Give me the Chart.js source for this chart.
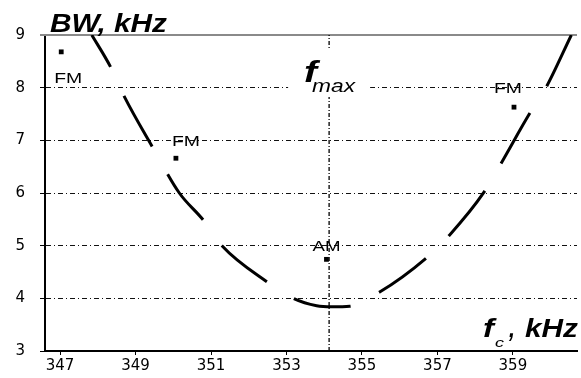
<!DOCTYPE html>
<html><head><meta charset="utf-8">
<script src="https://cdn.jsdelivr.net/npm/chart.js@4"></script>
<style>html,body{margin:0;padding:0;background:#fff}#wrap{width:581px;height:378px;position:relative}</style>
</head><body><div id="wrap"><canvas id="c"></canvas></div>
<script>
// ---- data ----
const xTicks = [347, 349, 351, 353, 355, 357, 359];
const yTicks = [3, 4, 5, 6, 7, 8, 9];
const curveFc = [347.84, 348.34, 348.71, 349.45, 350.16, 350.79, 351.29, 352.47, 353.18, 353.8, 354.2, 354.68, 355.47, 356.68, 357.32, 358.24, 358.71, 359.42, 359.87, 360.55];
const curveBW = [9.0, 8.39, 7.82, 6.87, 6.0, 5.49, 5.0, 4.32, 4.0, 3.86, 3.84, 3.85, 4.12, 4.75, 5.2, 6.02, 6.59, 7.48, 7.99, 9.0];
const pointFc = [347.03, 350.07, 354.06, 359.03];
const pointBW = [8.68, 6.66, 4.74, 7.63];
const pointLabels = ['FM', 'FM', 'AM', 'FM'];
const fMax = 354.13;
const yRange = [3, 9];
const xRange = [346.6, 360.7];

// label placement offsets (px) relative to each point: [dx, dy]
const labelOffsets = [[7, 31], [10, -12], [0, -8], [-6, -14]];

function stretchText(ctx, s, x, y, font, w) {
  ctx.save();
  ctx.font = font;
  const m = ctx.measureText(s).width;
  const sx = w ? w / m : 1;
  ctx.translate(x, y);
  ctx.scale(sx, 1);
  ctx.textAlign = 'left';
  ctx.textBaseline = 'alphabetic';
  ctx.fillStyle = '#000';
  ctx.fillText(s, 0, 0);
  ctx.restore();
}

const decor = {
  id: 'decor',
  beforeDatasetsDraw(chart) {
    const ctx = chart.ctx, a = chart.chartArea;
    ctx.save();
    ctx.strokeStyle = '#8a8a8a';
    ctx.lineWidth = 2;
    ctx.beginPath();
    ctx.moveTo(a.left - 5, a.top);
    ctx.lineTo(a.right, a.top);
    ctx.stroke();
    ctx.restore();
  },
  afterDatasetsDraw(chart) {
    const ctx = chart.ctx;
    const xs = chart.scales.x, ys = chart.scales.y;
    // f_max label with white backing
    const cx = xs.getPixelForValue(fMax);
    ctx.save();
    ctx.fillStyle = '#fff';
    ctx.fillRect(cx - 41, 48, 82, 49);
    ctx.restore();
    stretchText(ctx, 'f', cx - 25, 82, 'bold italic 30px "Liberation Sans"', 13);
    stretchText(ctx, 'max', cx - 17, 92, 'italic 19px "Liberation Sans"', 43);
    // axis titles
    stretchText(ctx, 'BW, kHz', 50, 32, 'bold italic 26px "Liberation Sans"', 117);
    stretchText(ctx, 'f', 483, 337, 'bold italic 26px "Liberation Sans"', 11);
    stretchText(ctx, 'c', 495, 347, 'italic 13px "Liberation Sans"', 9);
    stretchText(ctx, ',', 509, 337, 'bold italic 26px "Liberation Sans"', 6);
    stretchText(ctx, 'kHz', 525, 337, 'bold italic 26px "Liberation Sans"', 53);
    // point labels
    pointLabels.forEach((lab, i) => {
      const px = xs.getPixelForValue(pointFc[i]);
      const py = ys.getPixelForValue(pointBW[i]);
      const w = 28;
      stretchText(ctx, lab, px + labelOffsets[i][0] - w / 2, py + labelOffsets[i][1], '14px "Liberation Sans"', w);
    });
  }
};

new Chart(document.getElementById('c'), {
  type: 'scatter',
  data: {
    datasets: [
      {
        label: 'BW curve',
        data: curveFc.map((x, i) => ({ x, y: curveBW[i] })),
        showLine: true,
        borderColor: '#000',
        borderWidth: 3,
        borderDash: [58, 31.8],
        borderDashOffset: 21,
        pointRadius: 0,
        cubicInterpolationMode: 'monotone',
        fill: false
      },
      {
        label: 'fmax',
        data: [{ x: fMax, y: yRange[0] }, { x: fMax, y: yRange[1] }],
        showLine: true,
        borderColor: '#000',
        borderWidth: 1.3,
        borderDash: [4, 2, 1, 2],
        pointRadius: 0
      },
      {
        label: 'points',
        data: pointFc.map((x, i) => ({ x, y: pointBW[i] })),
        showLine: false,
        pointStyle: 'rect',
        pointRadius: 3.4,
        backgroundColor: '#000',
        borderColor: '#000',
        borderWidth: 0
      }
    ]
  },
  options: {
    responsive: true,
    maintainAspectRatio: false,
    animation: false,
    layout: { padding: { top: 35, right: 0, left: 0, bottom: 0 } },
    plugins: { legend: { display: false }, tooltip: { enabled: false } },
    scales: {
      x: {
        type: 'linear',
        min: xRange[0],
        max: xRange[1],
        afterBuildTicks: s => { s.ticks = xTicks.map(v => ({ value: v })); },
        afterFit: s => { s.height = 27; },
        grid: { drawOnChartArea: false, tickLength: 4, tickColor: '#000', tickWidth: 1 },
        border: { color: '#000', width: 2 },
        ticks: {
          autoSkip: false, maxRotation: 0, padding: 2, color: '#000',
          font: { family: '"DejaVu Sans"', size: 15 },
          callback: v => String(v)
        }
      },
      y: {
        min: yRange[0],
        max: yRange[1],
        afterBuildTicks: s => { s.ticks = yTicks.map(v => ({ value: v })); },
        afterFit: s => { s.width = 45; },
        grid: {
          color: c => (c.tick && (c.tick.value === yRange[1] || c.tick.value === yRange[0])) ? 'rgba(0,0,0,0)' : '#111',
          lineWidth: 1,
          tickLength: 5,
          tickColor: '#000',
          tickBorderDash: []
        },
        border: { color: '#000', width: 2, dash: [5, 3, 1, 3] },
        ticks: {
          padding: 15, color: '#000',
          font: { family: '"DejaVu Sans"', size: 15 },
          callback: v => String(v)
        }
      }
    }
  },
  plugins: [decor]
});
</script>
</body></html>
